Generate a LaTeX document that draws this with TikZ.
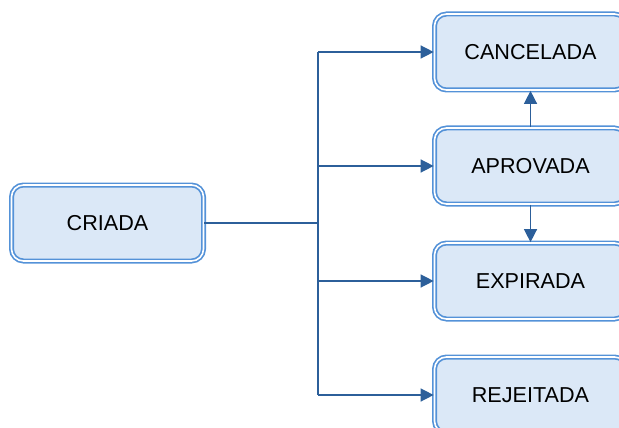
\documentclass[tikz,border=0pt]{standalone}
\usepackage{fontspec}
\setmainfont{Liberation Sans}
\usetikzlibrary{arrows.meta}
\definecolor{boxline}{RGB}{84,146,216}
\definecolor{boxfill}{RGB}{219,232,247}
\definecolor{flow}{RGB}{44,95,154}
\tikzset{
  state/.style={draw=boxline, line width=0.85pt, double=white, double distance=0.8pt,
    fill=boxfill, rounded corners=6pt, minimum width=96pt, minimum height=38pt,
    font=\fontsize{10.8}{13}\selectfont},
  flowline/.style={draw=flow, line width=0.7pt},
  flowarrow/.style={flowline, -{Triangle[length=6.5pt, width=6.5pt]}}
}
\begin{document}
\begin{tikzpicture}[x=0.5pt, y=-0.5pt]
    \useasboundingbox (0,0) rectangle (619,427);
    % states
    \node[state] (criada) at (107.5, 223) {CRIADA};
    \node[state] (cancelada) at (530.5, 52) {CANCELADA};
    \node[state] (aprovada) at (530.5, 166) {APROVADA};
    \node[state] (expirada) at (530.5, 281) {EXPIRADA};
    \node[state] (rejeitada) at (530.5, 395) {REJEITADA};
    % trunk from CRIADA
    \coordinate (hub) at (318, 223);
    \coordinate (top) at (hub |- cancelada);
    \coordinate (bot) at (hub |- rejeitada);
    \draw[flowline] (criada) -- (hub);
    \draw[flowline] (top) -- (bot);
    \draw[flowarrow] (top) -- (cancelada);
    \draw[flowarrow] (hub |- aprovada) -- (aprovada);
    \draw[flowarrow] (hub |- expirada) -- (expirada);
    \draw[flowarrow] (bot) -- (rejeitada);
    % from APROVADA
    \draw[flowarrow] (aprovada) -- (cancelada);
    \draw[flowarrow] (aprovada) -- (expirada);
\end{tikzpicture}
\end{document}
